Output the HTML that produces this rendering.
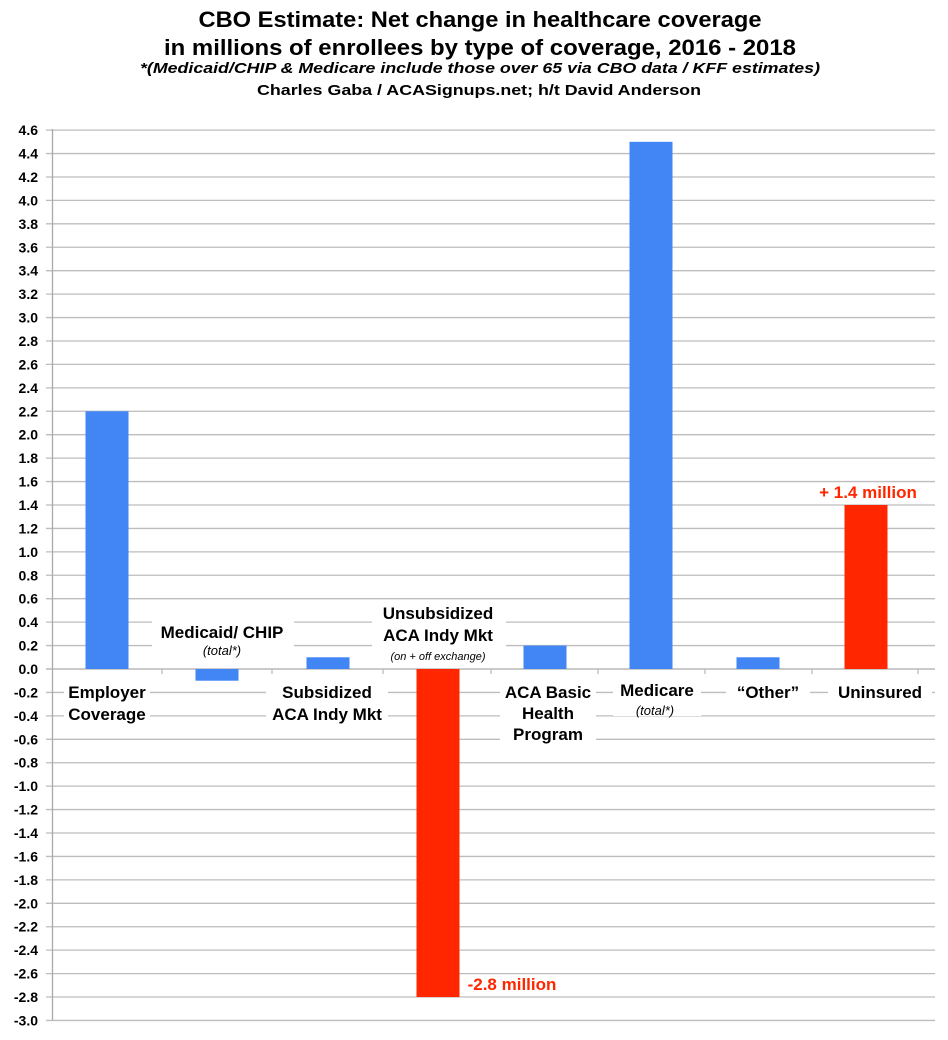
<!DOCTYPE html>
<html><head><meta charset="utf-8"><style>
html,body{margin:0;padding:0;background:#fff;}
svg{display:block;font-family:"Liberation Sans",sans-serif;}
</style></head><body>
<svg width="948" height="1040" viewBox="0 0 948 1040" xmlns="http://www.w3.org/2000/svg">
<rect width="948" height="1040" fill="#fff"/>
<g text-anchor="middle" fill="#000">
<text x="480" y="27" font-size="22" font-weight="bold" textLength="563" lengthAdjust="spacingAndGlyphs">CBO Estimate: Net change in healthcare coverage</text>
<text x="480" y="55" font-size="22" font-weight="bold" textLength="632" lengthAdjust="spacingAndGlyphs">in millions of enrollees by type of coverage, 2016 - 2018</text>
<text x="480" y="73" font-size="15" font-style="italic" font-weight="bold" textLength="680" lengthAdjust="spacingAndGlyphs">*(Medicaid/CHIP &amp; Medicare include those over 65 via CBO data / KFF estimates)</text>
<text x="479" y="95" font-size="15" font-weight="bold" textLength="444" lengthAdjust="spacingAndGlyphs">Charles Gaba / ACASignups.net; h/t David Anderson</text>
</g>
<g id="grid" stroke="#bdbdbd" stroke-width="1.3"></g>
<g id="ticks" font-size="14" font-weight="bold" text-anchor="end"></g>
<line x1="52.5" y1="129" x2="52.5" y2="1020" stroke="#aaa" stroke-width="1.3"/>
<g id="bars"></g>
<g font-size="17" font-weight="bold" text-anchor="middle" fill="#000">
<rect x="64" y="680" width="86" height="42" fill="#fff"/>
<text x="107" y="698">Employer</text><text x="107" y="720">Coverage</text>
<rect x="152" y="618" width="142" height="40" fill="#fff"/>
<text x="222" y="638">Medicaid/ CHIP</text>
<text x="222" y="655" font-size="13" font-style="italic" font-weight="normal">(total*)</text>
<rect x="266" y="680" width="122" height="42" fill="#fff"/>
<text x="327" y="698">Subsidized</text><text x="327" y="720">ACA Indy Mkt</text>
<rect x="372" y="600" width="134" height="62" fill="#fff"/>
<text x="438" y="619">Unsubsidized</text><text x="438" y="641">ACA Indy Mkt</text>
<text x="438" y="660" font-size="11" font-style="italic" font-weight="normal">(on + off exchange)</text>
<rect x="500" y="680" width="96" height="64" fill="#fff"/>
<text x="548" y="698">ACA Basic</text><text x="548" y="719">Health</text><text x="548" y="740">Program</text>
<rect x="613" y="678" width="88" height="38" fill="#fff"/>
<text x="657" y="696">Medicare</text>
<text x="655" y="715" font-size="13" font-style="italic" font-weight="normal">(total*)</text>
<rect x="726" y="680" width="84" height="22" fill="#fff"/>
<text x="768" y="698">“Other”</text>
<rect x="828" y="680" width="104" height="22" fill="#fff"/>
<text x="880" y="698">Uninsured</text>
<text x="868" y="498" fill="#ff2600">+ 1.4 million</text>
<text x="512" y="990" fill="#ff2600">-2.8 million</text>
</g>
<script>
var z=669,s=23.43;
var g=document.getElementById('grid'),t=document.getElementById('ticks'),b=document.getElementById('bars');
var ns='http://www.w3.org/2000/svg';
for(var i=-15;i<=23;i++){var y=z-i*s;
var l=document.createElementNS(ns,'line');l.setAttribute('x1',46);l.setAttribute('x2',935);l.setAttribute('y1',y);l.setAttribute('y2',y);
if(i==0)l.setAttribute('stroke','#aaa');g.appendChild(l);
var tx=document.createElementNS(ns,'text');tx.setAttribute('x',38);tx.setAttribute('y',y+5);tx.textContent=(i*0.2).toFixed(1);t.appendChild(tx);}
[162,272,383,491,598,705,812,918].forEach(function(x){var l=document.createElementNS(ns,'line');l.setAttribute('x1',x);l.setAttribute('x2',x);l.setAttribute('y1',z);l.setAttribute('y2',z+5);g.appendChild(l);});
var d=[[107,2.2,'#4286f5'],[217,-0.1,'#4286f5'],[328,0.1,'#4286f5'],[438,-2.8,'#ff2600'],[545,0.2,'#4286f5'],[651,4.5,'#4286f5'],[758,0.1,'#4286f5'],[866,1.4,'#ff2600']];
d.forEach(function(e){var h=e[1]/0.2*s;var r=document.createElementNS(ns,'rect');r.setAttribute('x',e[0]-21.5);r.setAttribute('width',43);
r.setAttribute('y',h>0?z-h:z);r.setAttribute('height',Math.abs(h));r.setAttribute('fill',e[2]);b.appendChild(r);});
</script>
</svg>
</body></html>
